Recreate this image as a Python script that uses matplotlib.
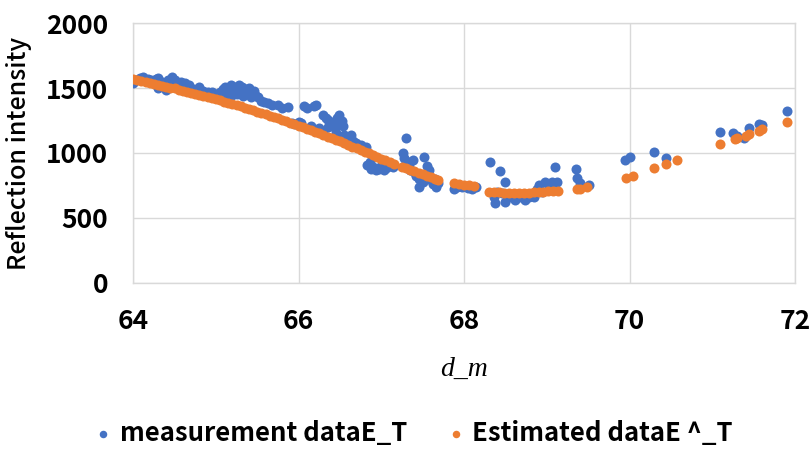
import matplotlib
matplotlib.use("Agg")
import matplotlib.pyplot as plt

# measured reflection intensity (blue)
meas_x = [64.00, 64.03, 64.08, 64.12, 64.18, 64.22, 64.27, 64.30, 64.30, 64.35,
          64.40, 64.42, 64.47, 64.50, 64.55, 64.58, 64.63, 64.68, 64.72, 64.79,
          64.85, 64.90, 64.95, 65.00, 65.05, 65.08, 65.11, 65.12, 65.15, 65.18,
          65.22, 65.25, 65.28, 65.31, 65.35, 65.38, 65.40, 65.43, 65.46, 65.48,
          65.51, 65.55, 65.58, 65.63, 65.68, 65.75, 65.80, 65.87, 65.92, 65.96,
          66.01, 66.03, 66.07, 66.10, 66.15, 66.18, 66.21, 66.25, 66.29, 66.29,
          66.33, 66.35, 66.38, 66.41, 66.45, 66.47, 66.49, 66.49, 66.52, 66.55,
          66.58, 66.63, 66.66, 66.69, 66.75, 66.81, 66.83, 66.86, 66.90, 66.93,
          66.97, 67.00, 67.03, 67.06, 67.10, 67.14, 67.26, 67.27, 67.30, 67.30,
          67.33, 67.35, 67.38, 67.40, 67.42, 67.45, 67.46, 67.50, 67.52, 67.55,
          67.58, 67.60, 67.62, 67.65, 67.66, 67.68, 67.88, 67.92, 67.97, 68.05,
          68.10, 68.14, 68.31, 68.36, 68.38, 68.40, 68.43, 68.46, 68.49, 68.50,
          68.55, 68.60, 68.62, 68.68, 68.74, 68.78, 68.84, 68.88, 68.90, 68.94,
          68.98, 69.02, 69.06, 69.10, 69.12, 69.35, 69.37, 69.40, 69.51, 69.94,
          70.00, 70.30, 70.44, 71.10, 71.25, 71.30, 71.39, 71.44, 71.56, 71.60,
          71.90, 65.20, 65.26, 65.33, 65.42, 66.36, 66.44, 66.54, 66.88, 66.95,
          67.02]
meas_y = [1540, 1560, 1575, 1587, 1570, 1560, 1572, 1577, 1497, 1550,
          1485, 1565, 1587, 1560, 1540, 1545, 1536, 1520, 1490, 1510,
          1480, 1470, 1472, 1455, 1470, 1490, 1510, 1433, 1500, 1520,
          1505, 1480, 1525, 1510, 1490, 1470, 1500, 1459, 1480, 1440,
          1433, 1400, 1390, 1382, 1370, 1369, 1350, 1356, 1230, 1220,
          1241, 1230, 1362, 1350, 1210, 1360, 1369, 1190, 1292, 1164,
          1270, 1254, 1240, 1228, 1151, 1270, 1292, 1236, 1250, 1140,
          1120, 1138, 1090, 1074, 1060, 1049, 908, 930, 890, 869,
          880, 900, 870, 882, 900, 890, 997, 960, 1113, 940,
          900, 870, 946, 850, 820, 800, 741, 780, 972, 900,
          869, 790, 760, 800, 741, 770, 720, 740, 735, 730,
          720, 741, 933, 664, 613, 700, 864, 690, 780, 626,
          660, 680, 638, 660, 638, 660, 664, 720, 754, 700,
          780, 760, 780, 895, 780, 874, 805, 770, 754, 946,
          972, 1005, 964, 1159, 1156, 1130, 1113, 1190, 1221, 1215,
          1323, 1450, 1455, 1440, 1430, 1200, 1190, 1210, 880, 875,
          885]

# estimated reflection intensity (orange)
est_x = [64.00, 64.05, 64.10, 64.15, 64.20, 64.25, 64.30, 64.35, 64.40, 64.45,
         64.50, 64.55, 64.60, 64.65, 64.70, 64.75, 64.80, 64.85, 64.90, 64.95,
         65.00, 65.05, 65.10, 65.15, 65.20, 65.25, 65.30, 65.35, 65.40, 65.45,
         65.50, 65.55, 65.60, 65.65, 65.70, 65.75, 65.80, 65.85, 65.90, 65.95,
         66.00, 66.05, 66.10, 66.15, 66.20, 66.25, 66.30, 66.35, 66.40, 66.45,
         66.50, 66.55, 66.60, 66.65, 66.70, 66.75, 66.80, 66.85, 66.90, 66.95,
         67.00, 67.05, 67.10, 67.15, 67.25, 67.30, 67.35, 67.40, 67.45, 67.50,
         67.55, 67.60, 67.65, 67.68, 67.88, 67.94, 68.00, 68.06, 68.12, 68.30,
         68.36, 68.42, 68.48, 68.54, 68.60, 68.66, 68.72, 68.78, 68.84, 68.90,
         68.96, 69.02, 69.08, 69.14, 69.36, 69.40, 69.49, 69.96, 70.04, 70.30,
         70.44, 70.58, 71.10, 71.27, 71.30, 71.41, 71.44, 71.56, 71.60, 71.90]
est_y = [1568, 1562, 1555, 1548, 1541, 1534, 1526, 1519, 1512, 1504,
         1497, 1489, 1481, 1473, 1465, 1457, 1449, 1440, 1432, 1423,
         1414, 1405, 1396, 1387, 1378, 1368, 1359, 1349, 1339, 1329,
         1319, 1309, 1298, 1288, 1277, 1266, 1255, 1244, 1233, 1222,
         1210, 1199, 1187, 1175, 1163, 1151, 1139, 1127, 1114, 1102,
         1089, 1076, 1063, 1050, 1037, 1024, 1011, 997, 984, 970,
         957, 943, 930, 918, 895, 884, 872, 860, 848, 836,
         825, 813, 801, 795, 767, 760, 755, 750, 742, 702,
         700, 697, 695, 693, 692, 692, 693, 695, 697, 700,
         702, 704, 706, 708, 720, 725, 741, 810, 823, 885,
         915, 946, 1067, 1108, 1112, 1133, 1143, 1172, 1182, 1238]

x_ticks = [64, 66, 68, 70, 72]
y_ticks = [0, 500, 1000, 1500, 2000]

blue = "#4472C4"
orange = "#ED7D31"
grid_col = "#D9D9D9"
tick_font = "Noto Sans CJK JP"

fig = plt.figure(figsize=(8.12, 4.54), dpi=100)
ax = fig.add_axes([0.164, 0.377, 0.815, 0.572])

ax.scatter(meas_x, meas_y, s=52, color=blue, linewidths=0, zorder=3,
           label="measurement dataE_T")
ax.scatter(est_x, est_y, s=52, color=orange, linewidths=0, zorder=4,
           label="Estimated dataE ^_T")

ax.set_xlim(64, 72)
ax.set_ylim(0, 2000)
ax.set_xticks(x_ticks)
ax.set_yticks(y_ticks)
ax.grid(True, color=grid_col, linewidth=1.0, zorder=0)
ax.set_axisbelow(True)
for sp in ax.spines.values():
    sp.set_color(grid_col)
    sp.set_linewidth(1.0)
ax.tick_params(length=0, pad=18)

for lab in ax.get_xticklabels() + ax.get_yticklabels():
    lab.set_fontfamily(tick_font)
    lab.set_fontweight("bold")
    lab.set_fontsize(19)

ax.set_xlabel("d_m", family="Liberation Serif", style="italic", fontsize=20, labelpad=16)
ax.set_ylabel("Reflection intensity", family=tick_font, fontweight="medium",
              fontsize=18, labelpad=10)

fig.legend(loc="center", bbox_to_anchor=(0.51, 0.046), ncol=2, frameon=False,
           markerscale=0.75, handlelength=0.6, handletextpad=0.35, columnspacing=1.6,
           prop={"family": tick_font, "weight": "bold", "size": 18.5})

fig.savefig("out.png", dpi=100)
